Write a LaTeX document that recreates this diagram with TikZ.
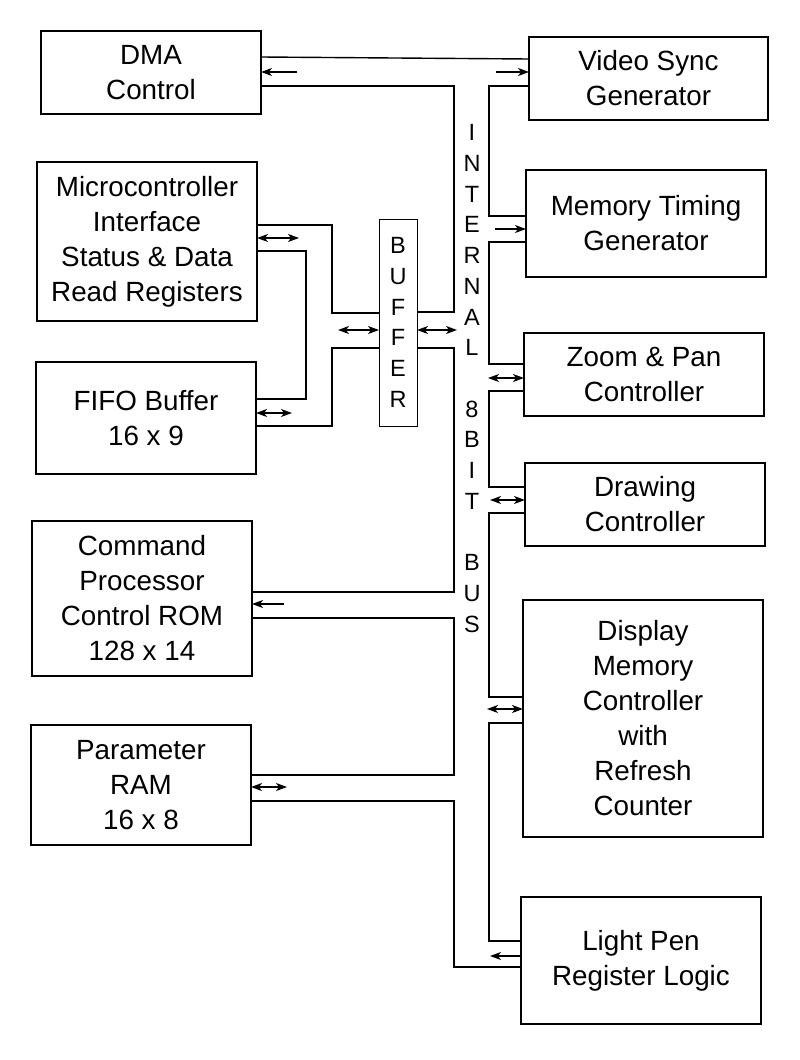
\documentclass[tikz,border=0pt]{standalone}
\usepackage{fontspec}
\setmainfont{Liberation Sans}
\usetikzlibrary{arrows.meta}

\tikzset{
  block/.style={draw, line width=2.1pt, outer sep=0pt, inner sep=0pt, align=center,
    font=\fontsize{27.8}{35}\selectfont},
  pipe/.style={line width=1.4pt},
  tip/.tip={Stealth[length=11pt,width=8pt,inset=3pt]},
  arr/.style={line width=1.4pt, -tip},
  darr/.style={line width=1.4pt, tip-tip},
  letters/.style={align=center, inner sep=0pt, font=\fontsize{23.5}{30.7}\selectfont}
}

\begin{document}
\begin{tikzpicture}[x=1pt, y=-1pt]
  \useasboundingbox (0,0) rectangle (800,1060);

  % left column
  \node[block, minimum width=220pt, minimum height=83pt]  (dma)   at (151,72.5)  {DMA\\Control};
  \node[block, minimum width=220pt, minimum height=159pt] (micro) at (147,241.5) {Microcontroller\\Interface\\Status \& Data\\Read Registers};
  \node[block, minimum width=220pt, minimum height=112pt] (fifo)  at (146,418)   {FIFO Buffer\\16 x 9};
  \node[block, minimum width=220pt, minimum height=155pt] (cmd)   at (142,598.5) {Command\\Processor\\Control ROM\\128 x 14};
  \node[block, minimum width=220pt, minimum height=120pt] (param) at (141,785)   {Parameter\\RAM\\16 x 8};

  % right column
  \node[block, minimum width=239pt, minimum height=83pt]  (vsync)  at (648.5,78.5) {Video Sync\\Generator};
  \node[block, minimum width=240pt, minimum height=107pt] (memtim) at (646,223.5)  {Memory Timing\\Generator};
  \node[block, minimum width=240pt, minimum height=83pt]  (zoom)   at (644,374.5)  {Zoom \& Pan\\Controller};
  \node[block, minimum width=240pt, minimum height=83pt]  (drawc)  at (645,504.5)  {Drawing\\Controller};
  \node[block, minimum width=240pt, minimum height=237pt] (disp)   at (643,718.5)  {Display\\Memory\\Controller\\with\\Refresh\\Counter};
  \node[block, minimum width=240pt, minimum height=127pt] (lpen)   at (641,960.5)  {Light Pen\\Register Logic};

  % buffer and bus label
  \node[draw, line width=1pt, outer sep=0pt, minimum width=38pt, minimum height=207pt, letters] (buf) at (398,322.5) {B\\U\\F\\F\\E\\R};
  \node[letters] (bus) at (472,378.5) {I\\N\\T\\E\\R\\N\\A\\L\\~\\8\\B\\I\\T\\~\\B\\U\\S};

  % bus, left wall
  \draw[pipe] (dma.east |- 0,86) -| (454,312) -- (buf.east |- 0,312);
  \draw[pipe] (buf.east |- 0,348) -| (454,592) -- (cmd.east |- 0,592);
  \draw[pipe] (cmd.east |- 0,618) -| (454,775) -- (param.east |- 0,775);
  \draw[pipe] (param.east |- 0,801) -| (454,967) -- (lpen.west |- 0,967);

  % bus, right wall
  \draw[pipe] (dma.east |- 0,57) -- (vsync.west |- 0,59);
  \draw[pipe] (vsync.west |- 0,86) -| (489,216) -- (memtim.west |- 0,216);
  \draw[pipe] (memtim.west |- 0,242) -| (489,364) -- (zoom.west |- 0,364);
  \draw[pipe] (zoom.west |- 0,391) -| (489,487) -- (drawc.west |- 0,487);
  \draw[pipe] (drawc.west |- 0,513) -| (489,697) -- (disp.west |- 0,697);
  \draw[pipe] (disp.west |- 0,723) -| (489,941) -- (lpen.west |- 0,941);

  % buffer side
  \draw[pipe] (micro.east |- 0,225) -| (332,313) -- (buf.west |- 0,313);
  \draw[pipe] (micro.east |- 0,251) -| (306,399) -- (fifo.east |- 0,399);
  \draw[pipe] (fifo.east |- 0,426) -| (332,348) -- (buf.west |- 0,348);

  % arrows
  \draw[arr]  (297,72) -- (dma.east |- 0,72);
  \draw[arr]  (496,72) -- (vsync.west |- 0,72);
  \draw[arr]  (495,229) -- (memtim.west |- 0,229);
  \draw[darr] (micro.east |- 0,238) -- (299,238);
  \draw[darr] (338,330) -- (buf.west |- 0,330);
  \draw[darr] (buf.east |- 0,330) -- (457,330);
  \draw[darr] (fifo.east |- 0,413) -- (292,413);
  \draw[darr] (488,378) -- (zoom.west |- 0,378);
  \draw[darr] (490,500) -- (drawc.west |- 0,500);
  \draw[arr]  (284,604) -- (cmd.east |- 0,604);
  \draw[darr] (param.east |- 0,787) -- (287,787);
  \draw[darr] (487,709) -- (disp.west |- 0,709);
  \draw[arr]  (lpen.west |- 0,956) -- (490,956);
\end{tikzpicture}
\end{document}
